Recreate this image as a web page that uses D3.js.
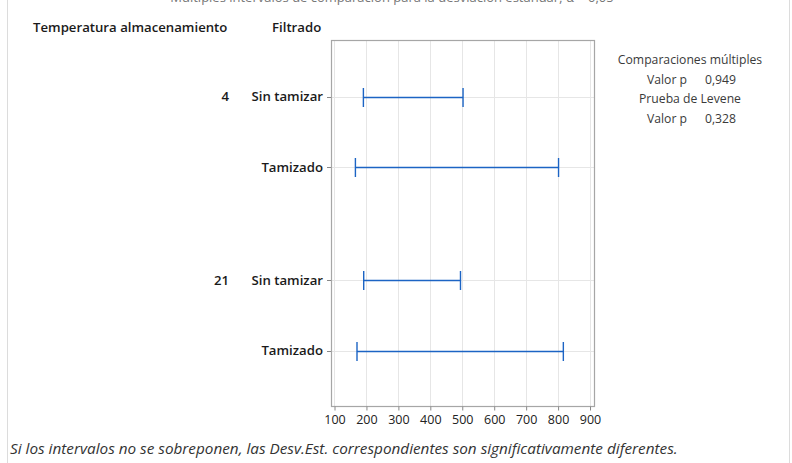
<!DOCTYPE html>
<html>
<head>
<meta charset="utf-8">
<script src="https://cdn.jsdelivr.net/npm/d3@7"></script>
<style>
  html, body { margin: 0; padding: 0; background: #ffffff; }
  svg { display: block; font-family: "Open Sans", "Noto Sans", sans-serif; }
</style>
</head>
<body>
<svg id="chart" width="792" height="463"></svg>
<script>
// Storage temperature groups and filtering levels
const temperatures = ["4", "21"];
const filtering = ["Sin tamizar", "Tamizado"];
// 95% multiple-comparison intervals for the standard deviation, per row
const lowerBounds = [192, 167, 193, 172];
const upperBounds = [504, 803, 496, 818];
const xTicks = [100, 200, 300, 400, 500, 600, 700, 800, 900];
const statLabels = ["Comparaciones múltiples", "Valor p", "Prueba de Levene", "Valor p"];
const statValues = ["", "0,949", "", "0,328"];

const rows = [];
temperatures.forEach((t, gi) => {
  filtering.forEach((f, fi) => {
    const i = gi * filtering.length + fi;
    rows.push({ temp: fi === 0 ? t : "", filt: f, lo: lowerBounds[i], hi: upperBounds[i], group: gi, pos: fi });
  });
});

const svg = d3.select("#chart");
const plot = { left: 331, right: 594, top: 40, bottom: 406 };

// outer panel edge
svg.append("rect")
  .attr("x", 7.5).attr("y", -20).attr("width", 782).attr("height", 520)
  .attr("fill", "#ffffff").attr("stroke", "#dcdcdc");

// title (sits at the very top edge)
svg.append("text")
  .attr("x", 392).attr("y", 2)
  .attr("text-anchor", "middle")
  .attr("font-size", 13).attr("fill", "#777")
  .text("Múltiples intervalos de comparación para la desviación estándar; α = 0,05");

const x = d3.scaleLinear().domain([90.6, 914]).range([plot.left, plot.right]);

// rows are evenly spaced, with an extra gap between temperature groups
const groupGap = 0.61;
const rowIndex = d => d.group * (filtering.length + groupGap) + d.pos;
const y = d3.scaleLinear().domain([-0.806, 4.397]).range([plot.top, plot.bottom]);
const rowY = d => Math.round(y(rowIndex(d))) + 0.5;

const g = svg.append("g");

// vertical grid
g.selectAll("line.vgrid").data(xTicks).join("line")
  .attr("class", "vgrid")
  .attr("x1", d => Math.round(x(d)) + 0.5).attr("x2", d => Math.round(x(d)) + 0.5)
  .attr("y1", plot.top).attr("y2", plot.bottom)
  .attr("stroke", "#e6e6e6");

// horizontal grid at each row
g.selectAll("line.hgrid").data(rows).join("line")
  .attr("class", "hgrid")
  .attr("x1", plot.left).attr("x2", plot.right)
  .attr("y1", rowY).attr("y2", rowY)
  .attr("stroke", "#e6e6e6");

// plot frame
g.append("rect")
  .attr("x", plot.left + 0.5).attr("y", plot.top + 0.5)
  .attr("width", plot.right - plot.left).attr("height", plot.bottom - plot.top)
  .attr("fill", "none").attr("stroke", "#a6a6a6").attr("stroke-width", 1.2);

// x axis
const xAxis = d3.axisBottom(x).tickValues(xTicks).tickSize(4).tickPadding(5).tickSizeOuter(0);
const xa = svg.append("g").attr("transform", `translate(0.5,${plot.bottom + 0.5})`).call(xAxis);
xa.select(".domain").remove();
xa.selectAll("line").attr("stroke", "#888");
xa.selectAll("text").attr("font-size", 12.5).attr("fill", "#222").attr("font-family", "Open Sans, sans-serif");

// y ticks
g.selectAll("line.ytick").data(rows).join("line")
  .attr("class", "ytick")
  .attr("x1", plot.left - 4).attr("x2", plot.left)
  .attr("y1", rowY).attr("y2", rowY)
  .attr("stroke", "#888");

// row labels
g.selectAll("text.filt").data(rows).join("text")
  .attr("class", "filt")
  .attr("x", plot.left - 8).attr("y", d => y(rowIndex(d)))
  .attr("dy", "0.35em").attr("text-anchor", "end")
  .attr("font-size", 13.2).attr("font-weight", 600).attr("fill", "#1a1a1a")
  .text(d => d.filt);

g.selectAll("text.temp").data(rows.filter(d => d.temp)).join("text")
  .attr("class", "temp")
  .attr("x", 229).attr("y", d => y(rowIndex(d)))
  .attr("dy", "0.35em").attr("text-anchor", "end")
  .attr("font-size", 13.2).attr("font-weight", 600).attr("fill", "#1a1a1a")
  .text(d => d.temp);

// column headers
svg.append("text").attr("x", 33).attr("y", 32)
  .attr("font-size", 13.2).attr("font-weight", 600).attr("fill", "#1a1a1a")
  .text("Temperatura almacenamiento");
svg.append("text").attr("x", 272).attr("y", 32)
  .attr("font-size", 13.2).attr("font-weight", 600).attr("fill", "#1a1a1a")
  .text("Filtrado");

// intervals
const blue = "#1c64c4";
const iv = g.selectAll("g.iv").data(rows).join("g").attr("class", "iv");
iv.append("line")
  .attr("x1", d => x(d.lo)).attr("x2", d => x(d.hi))
  .attr("y1", rowY).attr("y2", rowY)
  .attr("stroke", blue).attr("stroke-width", 1.4);
["lo", "hi"].forEach(k => {
  iv.append("line")
    .attr("x1", d => x(d[k])).attr("x2", d => x(d[k]))
    .attr("y1", d => rowY(d) - 9.5).attr("y2", d => rowY(d) + 9.5)
    .attr("stroke", blue).attr("stroke-width", 1.4);
});

// test statistics
const st = svg.append("g").attr("font-size", 12.2).attr("fill", "#3a3a3a");
statLabels.forEach((lab, i) => {
  const yy = 64 + i * 19.7;
  if (statValues[i]) {
    st.append("text").attr("x", 687).attr("y", yy).attr("text-anchor", "end").text(lab);
    st.append("text").attr("x", 705).attr("y", yy).text(statValues[i]);
  } else {
    st.append("text").attr("x", 690).attr("y", yy).attr("text-anchor", "middle").text(lab);
  }
});

// footnote
svg.append("text").attr("x", 10).attr("y", 454)
  .attr("font-size", 15.3).attr("font-style", "italic").attr("fill", "#333")
  .text("Si los intervalos no se sobreponen, las Desv.Est. correspondientes son significativamente diferentes.");
</script>
</body>
</html>
